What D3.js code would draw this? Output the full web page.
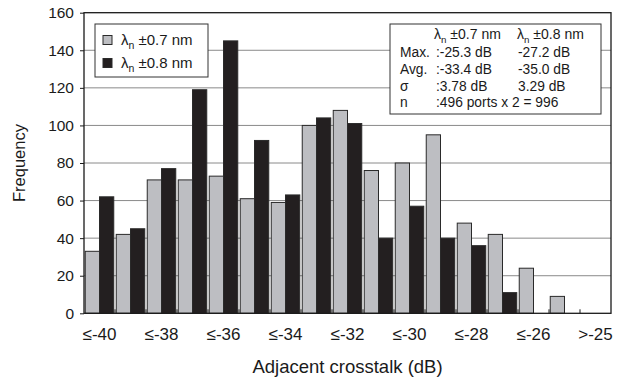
<!DOCTYPE html>
<html>
<head>
<meta charset="utf-8">
<script src="https://cdn.jsdelivr.net/npm/d3@7"></script>
<style>
  html, body { margin: 0; padding: 0; background: #fff; }
  svg { display: block; font-family: "Liberation Sans", Arial, sans-serif; }
</style>
</head>
<body>
<svg id="chart" width="618" height="382"></svg>
<script>
// Crosstalk histogram bins (1 dB wide)
const bins = ["≤-40", "≤-39", "≤-38", "≤-37", "≤-36", "≤-35", "≤-34", "≤-33",
              "≤-32", "≤-31", "≤-30", "≤-29", "≤-28", "≤-27", "≤-26", "≤-25", ">-25"];
const shownLabels = ["≤-40", "≤-38", "≤-36", "≤-34", "≤-32", "≤-30", "≤-28", "≤-26", ">-25"];

// Port counts per bin for the two passband widths
const freq07 = [33, 42, 71, 71, 73, 61, 59, 100, 108, 76, 80, 95, 48, 42, 24, 9, 0];
const freq08 = [62, 45, 77, 119, 145, 92, 63, 104, 101, 40, 57, 40, 36, 11, 0, 0, 0];

const seriesNames = ["±0.7 nm", "±0.8 nm"];
const yTicks = [0, 20, 40, 60, 80, 100, 120, 140, 160];

// Summary statistics table
const statRows = ["Max.", "Avg.", "σ", "n"];
const stat07 = [":-25.3 dB", ":-33.4 dB", ":3.78 dB", ":496 ports x 2 = 996"];
const stat08 = ["-27.2 dB", "-35.0 dB", "3.29 dB", ""];

const svg = d3.select("#chart");
const plotL = 84, plotR = 611, plotT = 12.7, plotB = 313.3;

const x = d3.scaleBand().domain(bins).range([plotL, plotR]).paddingInner(0.08).paddingOuter(0.04);
const step = x.step();
const xs = d3.scaleBand().domain([0, 1]).range([0, x.bandwidth()]);
const y = d3.scaleLinear().domain([0, 160]).range([plotB, plotT]);

const fills = ["#bdbec2", "#231f20"];
const ink = "#1a1a1a";

// horizontal gridlines
svg.append("g").selectAll("line")
  .data(yTicks.filter(t => t > 0 && t < 160))
  .join("line")
  .attr("x1", plotL).attr("x2", plotR)
  .attr("y1", d => y(d)).attr("y2", d => y(d))
  .attr("stroke", "#8a8a8a").attr("stroke-width", 1);

// bars
const rows = bins.map((b, i) => ({ bin: b, vals: [freq07[i], freq08[i]] }));
const groups = svg.append("g").selectAll("g")
  .data(rows).join("g")
  .attr("transform", d => `translate(${x(d.bin)},0)`);
groups.selectAll("rect")
  .data(d => d.vals.map((v, k) => ({ v, k })).filter(e => e.v > 0))
  .join("rect")
  .attr("x", e => xs(e.k))
  .attr("width", xs.bandwidth())
  .attr("y", e => y(e.v))
  .attr("height", e => y(0) - y(e.v))
  .attr("fill", e => fills[e.k])
  .attr("stroke", "#2a2a2a").attr("stroke-width", 1);

// plot frame
svg.append("rect")
  .attr("x", plotL).attr("y", plotT)
  .attr("width", plotR - plotL).attr("height", plotB - plotT)
  .attr("fill", "none").attr("stroke", ink).attr("stroke-width", 1.3);

// y axis
const yAxis = d3.axisLeft(y).tickValues(yTicks).tickSize(4).tickPadding(6);
const gy = svg.append("g").attr("transform", `translate(${plotL},0)`).call(yAxis);
gy.select(".domain").remove();
gy.selectAll("line").attr("stroke", ink);
gy.selectAll("text").attr("font-size", 15.5).attr("fill", ink)
  .attr("font-family", "Liberation Sans, Arial, sans-serif");

// category boundary ticks along the bottom
svg.append("g").selectAll("line")
  .data(d3.range(1, bins.length))
  .join("line")
  .attr("x1", i => x(bins[i]) - x.paddingInner() * step / 2)
  .attr("x2", i => x(bins[i]) - x.paddingInner() * step / 2)
  .attr("y1", plotB).attr("y2", plotB - 4)
  .attr("stroke", ink);

// x labels (every other bin)
svg.append("g").selectAll("text")
  .data(shownLabels)
  .join("text")
  .attr("x", d => x(d) + x.bandwidth() / 2)
  .attr("y", 340)
  .attr("text-anchor", "middle")
  .attr("font-size", 17).attr("fill", ink)
  .text(d => d);

// axis titles
svg.append("text")
  .attr("x", (plotL + plotR) / 2).attr("y", 373)
  .attr("text-anchor", "middle").attr("font-size", 18.5).attr("fill", ink)
  .text("Adjacent crosstalk (dB)");
svg.append("text")
  .attr("transform", `translate(25,${(plotT + plotB) / 2}) rotate(-90)`)
  .attr("text-anchor", "middle").attr("font-size", 16.5).attr("fill", ink)
  .text("Frequency");

// lambda_n label with subscript
function lambdaLabel(sel, suffix, size) {
  sel.append("tspan").text("λ");
  sel.append("tspan").attr("font-size", size * 0.7).attr("dy", 4).text("n");
  sel.append("tspan").attr("dy", -4).text(" " + suffix);
}

// legend
const lg = svg.append("g");
lg.append("rect").attr("x", 95).attr("y", 24).attr("width", 113).attr("height", 53)
  .attr("fill", "#fff").attr("stroke", "#333").attr("stroke-width", 1);
seriesNames.forEach((s, k) => {
  const cy = 40 + k * 23;
  lg.append("rect").attr("x", 103).attr("y", cy - 4.5).attr("width", 9).attr("height", 9)
    .attr("fill", fills[k]).attr("stroke", "#2a2a2a");
  const t = lg.append("text").attr("x", 121).attr("y", cy + 5)
    .attr("font-size", 15).attr("fill", ink);
  lambdaLabel(t, s, 15);
});

// statistics box
const sb = svg.append("g");
sb.append("rect").attr("x", 390).attr("y", 24).attr("width", 211).attr("height", 90)
  .attr("fill", "#fff").attr("stroke", "#333").attr("stroke-width", 1);
seriesNames.forEach((s, k) => {
  const t = sb.append("text").attr("x", k === 0 ? 434 : 517).attr("y", 39)
    .attr("font-size", 14).attr("fill", ink);
  lambdaLabel(t, s, 14);
});
statRows.forEach((r, i) => {
  const by = 57 + i * 16.8;
  sb.append("text").attr("x", 400).attr("y", by).attr("font-size", 13.8).attr("fill", ink).text(r);
  sb.append("text").attr("x", 436).attr("y", by).attr("font-size", 13.8).attr("fill", ink).text(stat07[i]);
  sb.append("text").attr("x", 518).attr("y", by).attr("font-size", 13.8).attr("fill", ink).text(stat08[i]);
});
</script>
</body>
</html>
